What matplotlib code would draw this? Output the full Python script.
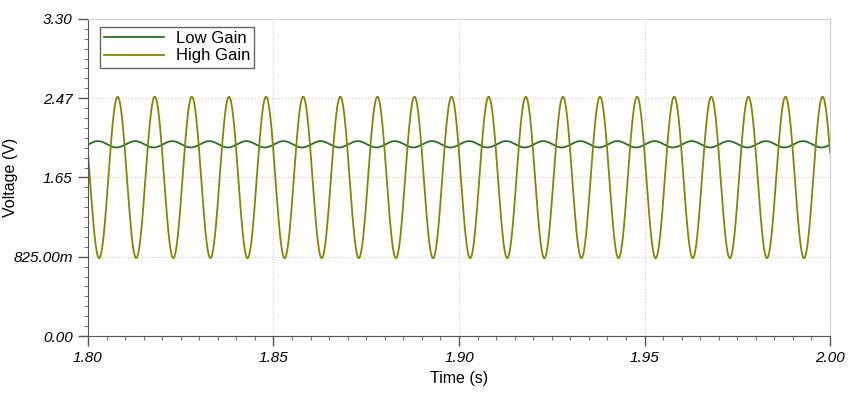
import matplotlib.pyplot as plt
import numpy as np
from matplotlib.ticker import MultipleLocator

plt.rcParams['font.family'] = ['Liberation Sans', 'DejaVu Sans']

# readings from the scope trace (sinusoidal test signals)
series = ['Low Gain', 'High Gain']
freq_hz = [100.0, 100.0]           # one cycle every 0.01 s
offset_v = [1.995, 1.65]           # mid level of each trace
amp_v = [0.033, 0.84]              # peak deviation
first_peak_s = [1.8127, 1.808]     # time of first crest
colors = ['#217521', '#858500']

t_start, t_stop = 1.80, 2.00
y_ticks = [0.0, 0.825, 1.65, 2.475, 3.30]
y_labels = ['0.00', '825.00m', '1.65', '2.47', '3.30']
x_ticks = [1.80, 1.85, 1.90, 1.95, 2.00]

t = np.linspace(t_start, t_stop, 6001)

fig = plt.figure(figsize=(8.5, 3.93), dpi=100)
ax = fig.add_axes([0.1035, 0.145, 0.873, 0.807])

for name, f, off, a, tp, c in zip(series, freq_hz, offset_v, amp_v, first_peak_s, colors):
    v = off + a * np.cos(2 * np.pi * f * (t - tp))
    ax.plot(t, v, color=c, lw=1.3, label=name)

ax.set_xlim(t_start, t_stop)
ax.set_ylim(0, 3.30)
ax.set_xticks(x_ticks)
ax.set_xticklabels([f'{x:.2f}' for x in x_ticks], fontstyle='italic', fontsize=11)
ax.set_yticks(y_ticks)
ax.set_yticklabels(y_labels, fontstyle='italic', fontsize=11)
ax.xaxis.set_minor_locator(MultipleLocator(0.005))
ax.yaxis.set_minor_locator(MultipleLocator(0.825 / 8))

ax.tick_params(which='major', direction='out', length=7, width=1, color='#555555', pad=4)
ax.tick_params(which='minor', direction='out', length=3, width=0.8, color='#777777')

ax.grid(True, which='major', linestyle=(0, (1, 2)), color='#c8c8c8', lw=0.8)

for s in ['left', 'bottom']:
    ax.spines[s].set_color('#555555')
for s in ['top', 'right']:
    ax.spines[s].set_color('#d0d0d0')

ax.set_xlabel('Time (s)', fontsize=11.5)
ax.set_ylabel('Voltage (V)', fontsize=11.5)
ax.yaxis.set_label_coords(-0.094, 0.5)

leg = ax.legend(loc='upper left', fontsize=12, fancybox=False, framealpha=1,
                edgecolor='#666666', handlelength=3.6, borderpad=0.25,
                labelspacing=0.15, handletextpad=0.7, borderaxespad=0,
                bbox_to_anchor=(0.016, 0.975))
leg.get_frame().set_linewidth(1.0)

plt.savefig('out.png', dpi=100)
